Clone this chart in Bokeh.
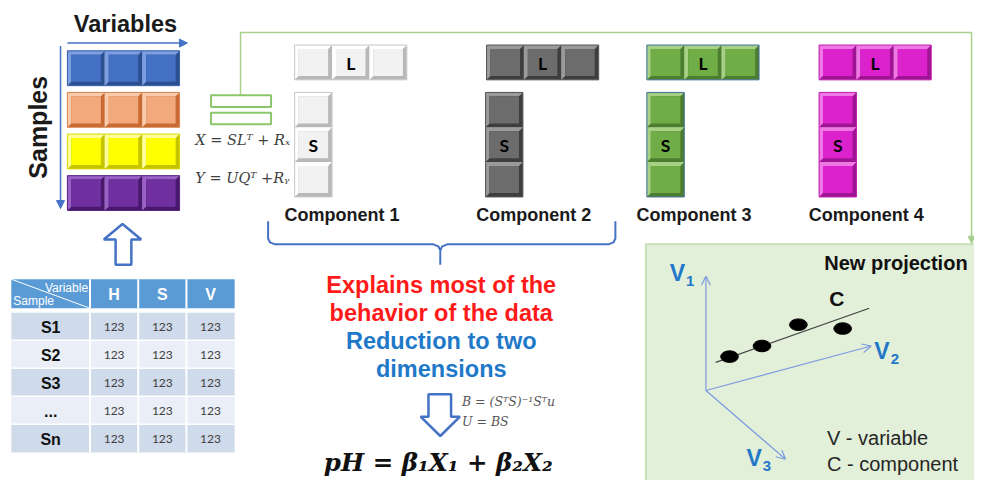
import math
from bokeh.plotting import figure
from bokeh.models import Range1d, Arrow, NormalHead, OpenHead
from bokeh.core.properties import value
from bokeh.embed import file_html
from bokeh.resources import INLINE

# ---------------- content / data ----------------
variables_label = "Variables"
samples_label = "Samples"
matrix_row_groups = ["blue", "orange", "yellow", "purple"]
n_variables = 3
component_names = ["Component 1", "Component 2", "Component 3", "Component 4"]
component_groups = ["white", "gray", "green", "magenta"]
loading_label = "L"
score_label = "S"
eq_x = "X = SLᵀ + Rₓ"
eq_y = "Y = UQᵀ +Rᵧ"
eq_b = "B = (SᵀS)⁻¹Sᵀu"
eq_u = "U = BS"
eq_ph = "pH = β₁X₁ + β₂X₂"
red_lines = ["Explains most of the", "behavior of the data"]
blue_lines = ["Reduction to two", "dimensions"]
table_header_corner = ["Variable", "Sample"]
table_cols = ["H", "S", "V"]
table_rows = ["S1", "S2", "S3", "...", "Sn"]
table_values = [["123", "123", "123"],
                ["123", "123", "123"],
                ["123", "123", "123"],
                ["123", "123", "123"],
                ["123", "123", "123"]]
proj_title = "New projection"
proj_axes = ["1", "2", "3"]
proj_points_u = [24, 57, 94, 139]     # offsets to the right of the projection origin
proj_points_v = [35, 46, 68, 64]      # offsets above the projection origin
proj_line_u = [10, 166]
proj_line_v = [29, 85]
proj_component_label = "C"
proj_legend = ["V - variable", "C - component"]

# ---------------- styles ----------------
SANS = "Liberation Sans"
CAL = "Lato"
SERIF = "DejaVu Serif"
BLUE = "#4472c4"
PALETTE = {
    "blue":    ("#4470c4", "#7d9ee0", "#2c4f8f", "#3a62ad"),
    "orange":  ("#f2a97c", "#f8cbad", "#c86a32", "#d98850"),
    "yellow":  ("#ffff00", "#ffff9a", "#c4c400", "#d8d800"),
    "purple":  ("#7030a0", "#9a62c6", "#47186b", "#5a2585"),
    "white":   ("#f2f2f2", "#ffffff", "#b8b8b8", "#c8c8c8"),
    "gray":    ("#6c6c6c", "#9a9a9a", "#3e3e3e", "#555555"),
    "green":   ("#70ad47", "#a6d185", "#4d7d2e", "#41719c"),
    "magenta": ("#dc22cc", "#ef78e4", "#9e1493", "#c01cb0"),
}

p = figure(width=974, height=480, x_range=Range1d(0, 990), y_range=Range1d(496, 0),
           output_backend="svg", toolbar_location=None,
           min_border=0, min_border_left=0, min_border_right=0,
           min_border_top=0, min_border_bottom=0)
p.axis.visible = False
p.grid.visible = False
p.outline_line_color = None
p.background_fill_color = "white"


def txt(x, y, s, size, color="black", font=SANS, style="normal", align="center",
        baseline="middle", angle=0.0):
    p.text(x=[x], y=[y], text=[s], text_font=value(font), text_font_size=value(size),
           text_font_style=style, text_color=color, text_align=align,
           text_baseline=baseline, angle=angle)


# bevelled cells
outer = dict(l=[], r=[], t=[], b=[], c=[])
lights = dict(xs=[], ys=[], c=[])
inner = dict(l=[], r=[], t=[], b=[], c=[])
frames = dict(l=[], r=[], t=[], b=[], c=[])


def bevel(x0, y0, w, h, group, bw=4):
    main, light, dark, _ = PALETTE[group]
    x1, y1 = x0 + w, y0 + h
    outer["l"].append(x0); outer["r"].append(x1); outer["t"].append(y0); outer["b"].append(y1); outer["c"].append(dark)
    lights["xs"].append([x0, x1, x1 - bw, x0 + bw, x0 + bw, x0])
    lights["ys"].append([y0, y0, y0 + bw, y0 + bw, y1 - bw, y1])
    lights["c"].append(light)
    inner["l"].append(x0 + bw); inner["r"].append(x1 - bw); inner["t"].append(y0 + bw); inner["b"].append(y1 - bw); inner["c"].append(main)


def frame(x0, y0, w, h, group):
    frames["l"].append(x0); frames["r"].append(x0 + w); frames["t"].append(y0); frames["b"].append(y0 + h)
    frames["c"].append(PALETTE[group][3])


# ---- data matrix (samples x variables)
MX0, MY0, CW, CH, RSTEP = 68, 52, 38, 36, 43
for r, g in enumerate(matrix_row_groups):
    for c in range(n_variables):
        bevel(MX0 + c * CW, MY0 + r * RSTEP, CW, CH, g)
    frame(MX0, MY0 + r * RSTEP, CW * n_variables, CH, g)

# ---- components
LX0 = [299, 494, 657, 832]
SX0 = [299, 493, 657, 832]
LY0, SY0 = 46, 95
for k, g in enumerate(component_groups):
    for c in range(3):
        bevel(LX0[k] + c * CW, LY0, CW, CH, g)
        bevel(SX0[k], SY0 + c * CH, CW, CH, g)
    frame(LX0[k], LY0, CW * 3, CH, g)
    frame(SX0[k], SY0, CW, CH * 3, g)

p.quad(left=outer["l"], right=outer["r"], top=outer["t"], bottom=outer["b"], fill_color=outer["c"], line_color=None)
p.patches(xs=lights["xs"], ys=lights["ys"], fill_color=lights["c"], line_color=None)
p.quad(left=inner["l"], right=inner["r"], top=inner["t"], bottom=inner["b"], fill_color=inner["c"], line_color=None)
p.quad(left=frames["l"], right=frames["r"], top=frames["t"], bottom=frames["b"], fill_color=None,
       line_color=frames["c"], line_width=1)

for k, name in enumerate(component_names):
    txt(LX0[k] + CW * 1.5, LY0 + CH / 2 + 1, loading_label, "17.5px", font=CAL, style="bold")
    txt(SX0[k] + CW / 2, SY0 + CH * 1.5 + 1, score_label, "17.5px", font=CAL, style="bold")
    txt(LX0[k] + 48, 222, name, "18px", style="bold", color="#1a1a1a")

# ---- matrix axes labels and arrows
txt(127, 24, variables_label, "23.5px", style="bold", color="#1a1a1a")
txt(38, 131, samples_label, "25px", style="bold", color="#1a1a1a", angle=math.pi / 2)
p.add_layout(Arrow(end=NormalHead(size=8, fill_color=BLUE, line_color=BLUE), x_start=68, y_start=44,
                   x_end=190, y_end=44, line_color=BLUE, line_width=1.5))
p.add_layout(Arrow(end=NormalHead(size=8, fill_color=BLUE, line_color=BLUE), x_start=61, y_start=47,
                   x_end=61, y_end=215, line_color=BLUE, line_width=1.5))

# ---- green connector and small rectangles
GREEN = "#a9d18e"
p.line(x=[244, 244, 987, 987], y=[98, 33, 33, 246], line_color=GREEN, line_width=1.5)
p.add_layout(Arrow(end=NormalHead(size=7, fill_color=GREEN, line_color=GREEN), x_start=987, y_start=240,
                   x_end=987, y_end=251, line_color=GREEN, line_width=1.5))
p.quad(left=[214, 214], right=[275, 275], top=[98, 116], bottom=[110, 128], fill_color="white",
       line_color="#8cc66a", line_width=2)
txt(198, 144, eq_x, "14.5px", color="#404040", font=SERIF, style="italic", align="left")
txt(198, 183, eq_y, "14.5px", color="#404040", font=SERIF, style="italic", align="left")

# ---- up arrow (hollow)
p.patch(x=[124, 143, 133, 133, 117, 117, 105], y=[231, 247, 247, 273, 273, 247, 247],
        fill_color="white", line_color=BLUE, line_width=2.5)

# ---- table
TX = [11, 91, 140, 189, 238]
HY0, HY1 = 288, 318
RY0, RH = 322, 29
p.quad(left=[TX[0]], right=[TX[-1]], top=[HY0], bottom=[HY1], fill_color="#5b9bd5", line_color=None)
for j in range(1, 4):
    p.line(x=[TX[j], TX[j]], y=[HY0, HY1], line_color="white", line_width=2)
p.line(x=[TX[0], TX[1]], y=[HY0, HY1], line_color="white", line_width=1)
txt(89, 297, table_header_corner[0], "12px", color="white", align="right")
txt(13, 311, table_header_corner[1], "12px", color="white", align="left")
for j, cname in enumerate(table_cols):
    txt((TX[j + 1] + TX[j + 2]) / 2, (HY0 + HY1) / 2 + 1, cname, "16px", color="white", style="bold")
for i, rname in enumerate(table_rows):
    top = RY0 + i * RH
    fill = "#cfdaeb" if i % 2 == 0 else "#e9eef7"
    p.quad(left=[TX[0]], right=[TX[-1]], top=[top], bottom=[top + RH], fill_color=fill, line_color=None)
    for j in range(1, 4):
        p.line(x=[TX[j], TX[j]], y=[top, top + RH], line_color="white", line_width=2)
    p.line(x=[TX[0], TX[-1]], y=[top, top], line_color="white", line_width=1.5)
    txt((TX[0] + TX[1]) / 2, top + RH / 2 + 1, rname, "16px", style="bold", color="#111111")
    for j in range(3):
        txt((TX[j + 1] + TX[j + 2]) / 2, top + RH / 2 + 1, table_values[i][j], "12px",
            color="#404040", font=CAL)

# ---- brace
p.line(x=[272, 272, 274, 279, 440, 445, 447, 447], y=[228, 246, 250, 252, 252, 254, 258, 273],
       line_color=BLUE, line_width=2)
p.line(x=[447, 449, 454, 618, 623, 625, 625], y=[258, 254, 252, 252, 250, 246, 228],
       line_color=BLUE, line_width=2)

# ---- central texts
for i, s in enumerate(red_lines):
    txt(448, 294 + i * 29, s, "23.5px", color="#ff1a1a", style="bold")
for i, s in enumerate(blue_lines):
    txt(448, 352 + i * 29, s, "23.5px", color="#1f78c8", style="bold")

p.patch(x=[435, 458, 458, 467, 447, 427, 435], y=[407, 407, 430, 430, 450, 430, 430],
        fill_color="white", line_color=BLUE, line_width=2.5)
txt(469, 414, eq_b, "12.5px", color="#555555", font=SERIF, style="italic", align="left")
txt(469, 435, eq_u, "12.5px", color="#555555", font=SERIF, style="italic", align="left")
txt(445, 477, eq_ph, "24.5px", color="#111111", font=SERIF, style="bold italic")

# ---- projection panel
p.quad(left=[656], right=[1000], top=[252], bottom=[500], fill_color="#e2efd9", line_color="#c5e0b4", line_width=2)
txt(983, 271, proj_title, "20px", style="bold", align="right", color="#111111")
OX, OY = 717, 403
AX_END = [(717, 285), (885, 357), (798, 474)]
PBLUE = "#7b9be0"
for (ex, ey) in AX_END:
    p.add_layout(Arrow(end=OpenHead(size=9, line_color=PBLUE, line_width=1.2), x_start=OX, y_start=OY,
                       x_end=ex, y_end=ey, line_color=PBLUE, line_width=1.2))
VPOS = [(688, 282), (896, 362), (766, 473)]
for (vx, vy), sub in zip(VPOS, proj_axes):
    txt(vx, vy, "V", "23px", color="#1f78c8", style="bold")
    txt(vx + 13, vy + 8, sub, "15px", color="#1f78c8", style="bold")
p.line(x=[OX + u for u in proj_line_u], y=[OY - v for v in proj_line_v], line_color="#444444", line_width=1.3)
p.ellipse(x=[OX + u for u in proj_points_u], y=[OY - v for v in proj_points_v], width=18, height=12,
          fill_color="black", line_color="black")
txt(850, 308, proj_component_label, "21px", style="bold", color="#111111")
txt(840, 452, proj_legend[0], "20px", align="left", color="#262626")
txt(840, 479, proj_legend[1], "20px", align="left", color="#262626")

open("out.html", "w").write(file_html(p, INLINE))
